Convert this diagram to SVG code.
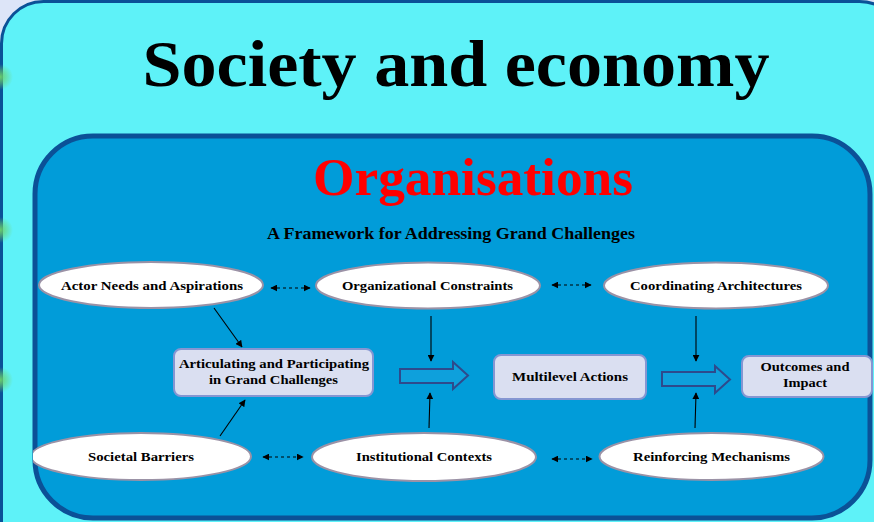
<svg xmlns="http://www.w3.org/2000/svg" width="874" height="522" viewBox="0 0 874 522">
<defs>
<style>
.t{font-family:"Liberation Serif","Times New Roman",serif;font-weight:bold;fill:#000;text-anchor:middle}
.ell{fill:#fff;stroke:#9b92a6;stroke-width:2}
.box{fill:#dadff1;stroke:#8596d2;stroke-width:2}
.blk{fill:#0ea0dc;stroke:#2e4a8c;stroke-width:2;stroke-linejoin:miter}
.con{stroke:#000;stroke-width:1.1;fill:none}
.dash{stroke:#000;stroke-width:1.2;fill:none;stroke-dasharray:3 3}
</style>
<marker id="ah" viewBox="0 0 10 10" refX="9" refY="5" markerWidth="7" markerHeight="7" markerUnits="userSpaceOnUse" orient="auto">
<path d="M0,0 L10,5 L0,10 z" fill="#000"/>
</marker>
<marker id="as" viewBox="0 0 10 10" refX="1" refY="5" markerWidth="7" markerHeight="7" markerUnits="userSpaceOnUse" orient="auto">
<path d="M10,0 L0,5 L10,10 z" fill="#000"/>
</marker>
<radialGradient id="glow">
<stop offset="0" stop-color="#6fd36a" stop-opacity="0.95"/>
<stop offset="0.5" stop-color="#6fd36a" stop-opacity="0.5"/>
<stop offset="1" stop-color="#6fd36a" stop-opacity="0"/>
</radialGradient>
<clipPath id="inner"><rect x="33" y="0" width="841" height="522"/></clipPath>
</defs>
<rect x="0" y="0" width="874" height="522" fill="#dde5f8"/>
<g id="society">
<rect x="1.5" y="1.5" width="900" height="600" rx="42" fill="#5ef2f8" stroke="#0b5197" stroke-width="3"/>
<circle cx="0" cy="77" r="13" fill="url(#glow)"/>
<circle cx="0" cy="230" r="13" fill="url(#glow)"/>
<circle cx="0" cy="380" r="13" fill="url(#glow)"/>
<text class="t" x="456" y="86" font-size="66" textLength="627" lengthAdjust="spacingAndGlyphs">Society and economy</text>
</g>
<g id="organisations">
<rect x="35" y="136" width="835" height="382" rx="58" fill="#019cd9" stroke="#0b5197" stroke-width="5"/>
<text class="t" x="473" y="195" font-size="52" style="fill:#ff0000" textLength="320" lengthAdjust="spacingAndGlyphs">Organisations</text>
<text class="t" x="451" y="239" font-size="16" textLength="368" lengthAdjust="spacingAndGlyphs">A Framework for Addressing Grand Challenges</text>
</g>
<g id="connectors">
<line class="con" x1="214" y1="308" x2="242" y2="347" marker-end="url(#ah)"/>
<line class="con" x1="220" y1="436" x2="245" y2="400" marker-end="url(#ah)"/>
<line class="con" x1="431" y1="316" x2="431" y2="361" marker-end="url(#ah)"/>
<line class="con" x1="429" y1="428" x2="430" y2="393" marker-end="url(#ah)"/>
<line class="con" x1="696" y1="316" x2="696" y2="361" marker-end="url(#ah)"/>
<line class="con" x1="695" y1="428" x2="696" y2="393" marker-end="url(#ah)"/>
<line class="dash" x1="271" y1="288" x2="310" y2="288" marker-start="url(#as)" marker-end="url(#ah)"/>
<line class="dash" x1="552" y1="285" x2="591" y2="285" marker-start="url(#as)" marker-end="url(#ah)"/>
<line class="dash" x1="263" y1="457" x2="303" y2="457" marker-start="url(#as)" marker-end="url(#ah)"/>
<line class="dash" x1="552" y1="459" x2="592" y2="459" marker-start="url(#as)" marker-end="url(#ah)"/>
<path class="blk" d="M400,369 L453,369 L453,362 L468,375.5 L453,389 L453,383 L400,383 Z"/>
<path class="blk" d="M662,372 L715,372 L715,366 L730,379.5 L715,393 L715,386 L662,386 Z"/>
</g>
<g id="actor-needs">
<ellipse class="ell" cx="151" cy="285" rx="112" ry="23"/>
<text class="t" x="152" y="289.5" font-size="13.5" textLength="182" lengthAdjust="spacingAndGlyphs">Actor Needs and Aspirations</text>
</g>
<g id="org-constraints">
<ellipse class="ell" cx="428" cy="285.5" rx="112" ry="23"/>
<text class="t" x="427.5" y="289.5" font-size="13.5" textLength="171" lengthAdjust="spacingAndGlyphs">Organizational Constraints</text>
</g>
<g id="coordinating">
<ellipse class="ell" cx="716" cy="285.5" rx="112" ry="23"/>
<text class="t" x="716" y="289.5" font-size="13.5" textLength="172" lengthAdjust="spacingAndGlyphs">Coordinating Architectures</text>
</g>
<g id="societal-barriers">
<ellipse class="ell" cx="141" cy="456.5" rx="110" ry="23.5" clip-path="url(#inner)"/>
<text class="t" x="141" y="461" font-size="13.5" textLength="106" lengthAdjust="spacingAndGlyphs">Societal Barriers</text>
</g>
<g id="institutional">
<ellipse class="ell" cx="424" cy="457" rx="112" ry="24"/>
<text class="t" x="424" y="461" font-size="13.5" textLength="136" lengthAdjust="spacingAndGlyphs">Institutional Contexts</text>
</g>
<g id="reinforcing">
<ellipse class="ell" cx="711.5" cy="456.5" rx="112" ry="23.5"/>
<text class="t" x="711.5" y="461" font-size="13.5" textLength="157" lengthAdjust="spacingAndGlyphs">Reinforcing Mechanisms</text>
</g>
<g id="articulating">
<rect class="box" x="174" y="349" width="199" height="47" rx="7"/>
<text class="t" x="274" y="368" font-size="13.5" textLength="190" lengthAdjust="spacingAndGlyphs">Articulating and Participating</text>
<text class="t" x="273.5" y="383.5" font-size="13.5" textLength="129" lengthAdjust="spacingAndGlyphs">in Grand Challenges</text>
</g>
<g id="multilevel">
<rect class="box" x="494" y="355" width="152" height="44" rx="7"/>
<text class="t" x="570" y="381" font-size="13.5" textLength="116" lengthAdjust="spacingAndGlyphs">Multilevel Actions</text>
</g>
<g id="outcomes">
<rect class="box" x="742" y="356" width="130" height="41" rx="7"/>
<text class="t" x="805" y="371" font-size="13.5" textLength="89" lengthAdjust="spacingAndGlyphs">Outcomes and</text>
<text class="t" x="805" y="386.5" font-size="13.5" textLength="44" lengthAdjust="spacingAndGlyphs">Impact</text>
</g>
</svg>
